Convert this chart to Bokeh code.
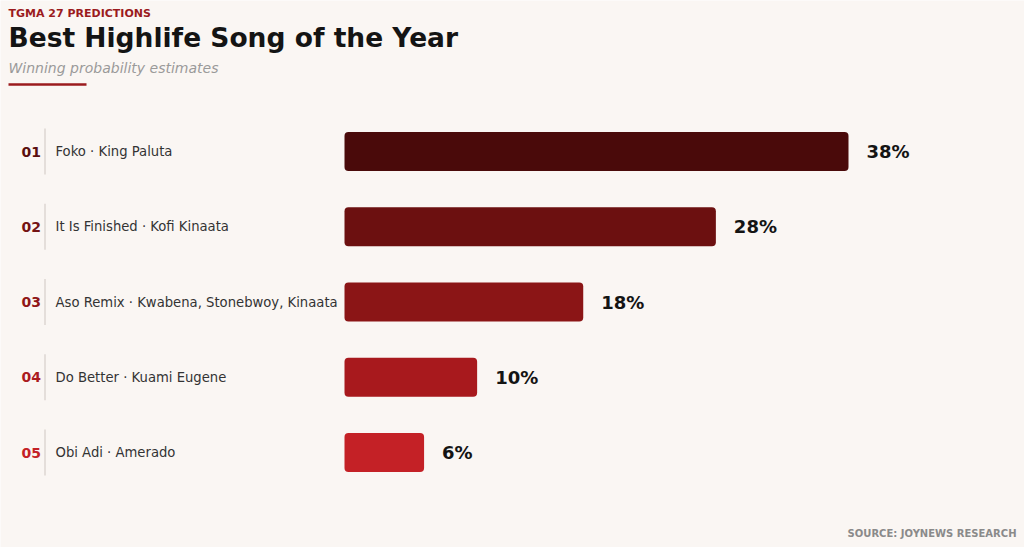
from bokeh.plotting import figure
from bokeh.models import ColumnDataSource, Range1d
from bokeh.core.properties import value
from bokeh.embed import file_html
from bokeh.resources import INLINE

# ---- data ----
ranks = ["01", "02", "03", "04", "05"]
songs = ["Foko · King Paluta", "It Is Finished · Kofi Kinaata",
         "Aso Remix · Kwabena, Stonebwoy, Kinaata", "Do Better · Kuami Eugene",
         "Obi Adi · Amerado"]
probs = [38, 28, 18, 10, 6]
value_labels = ["38%", "28%", "18%", "10%", "6%"]
colors = ["#4a0a0a", "#6c1010", "#8b1516", "#a8191d", "#c42126"]
rank_colors = ["#5a0f0f", "#741313", "#901718", "#ab1b1f", "#c42126"]

BG = "#faf6f3"
FONT = "DejaVu Sans"
W, H = 1024, 547

# layout helpers in picture pixels
X0 = 344              # bar origin in px
PX_PER_UNIT = 504 / 38.0
ROW0 = 151
ROW_STEP = 75.25

def X(px):
    return (px - X0) / PX_PER_UNIT

def Y(py):
    return (py - ROW0) / ROW_STEP

p = figure(width=W, height=H, output_backend="svg", toolbar_location=None,
           x_axis_type=None, y_axis_type=None, min_border=0,
           x_range=Range1d(X(0), X(W)), y_range=Range1d(Y(H), Y(0)))
p.background_fill_color = BG
p.border_fill_color = BG
p.outline_line_color = None
p.grid.visible = False

idx = list(range(len(probs)))
src = ColumnDataSource(dict(y=idx, v=probs, lab=value_labels, song=songs,
                            rank=ranks, c=colors, rc=rank_colors))

p.hbar(y="y", left=0, right="v", height=39 / ROW_STEP, fill_color="c",
       line_color=None, border_radius=4, source=src)

p.text(x="v", y="y", text="lab", x_offset=18, text_font=value(FONT),
       text_font_style="bold", text_font_size="18px", text_color="#141414",
       text_baseline="middle", source=src)

p.text(x=X(21), y="y", text="rank", text_font=value(FONT), text_font_style="bold",
       text_font_size="14px", text_color="rc", text_baseline="middle", source=src)

p.text(x=X(55), y="y", text="song", text_font=value(FONT),
       text_font_size="13.2px", text_color="#333333", text_baseline="middle", source=src)

# separators
p.segment(x0=[X(44.5)] * 5, x1=[X(44.5)] * 5,
          y0=[i - 23 / ROW_STEP for i in idx], y1=[i + 23 / ROW_STEP for i in idx],
          line_color="#dcd6d2", line_width=1.5)

# header
p.text(x=[X(8)], y=[Y(12.5)], text=["TGMA 27  PREDICTIONS"], text_font=value(FONT),
       text_font_style="bold", text_font_size="11px", text_color="#9b1b1e",
       text_baseline="middle")
p.text(x=[X(8)], y=[Y(36.5)], text=["Best Highlife Song of the Year"], text_font=value(FONT),
       text_font_style="bold", text_font_size="26.5px", text_color="#141414",
       text_baseline="middle")
p.text(x=[X(8)], y=[Y(67)], text=["Winning probability estimates"], text_font=value(FONT),
       text_font_style="italic", text_font_size="14px", text_color="#9a9a9a",
       text_baseline="middle")
p.segment(x0=[X(8)], x1=[X(86)], y0=[Y(84)], y1=[Y(84)], line_color="#9b1b1e", line_width=2.5)

p.text(x=[X(1016)], y=[Y(533)], text=["SOURCE: JOYNEWS RESEARCH"], text_font=value(FONT),
       text_font_style="bold", text_font_size="10px", text_color="#8a8a8a",
       text_align="right", text_baseline="middle")

html = file_html(p, INLINE)
html = html.replace("<body>", '<body style="background:%s">' % BG, 1)
open("out.html", "w").write(html)
